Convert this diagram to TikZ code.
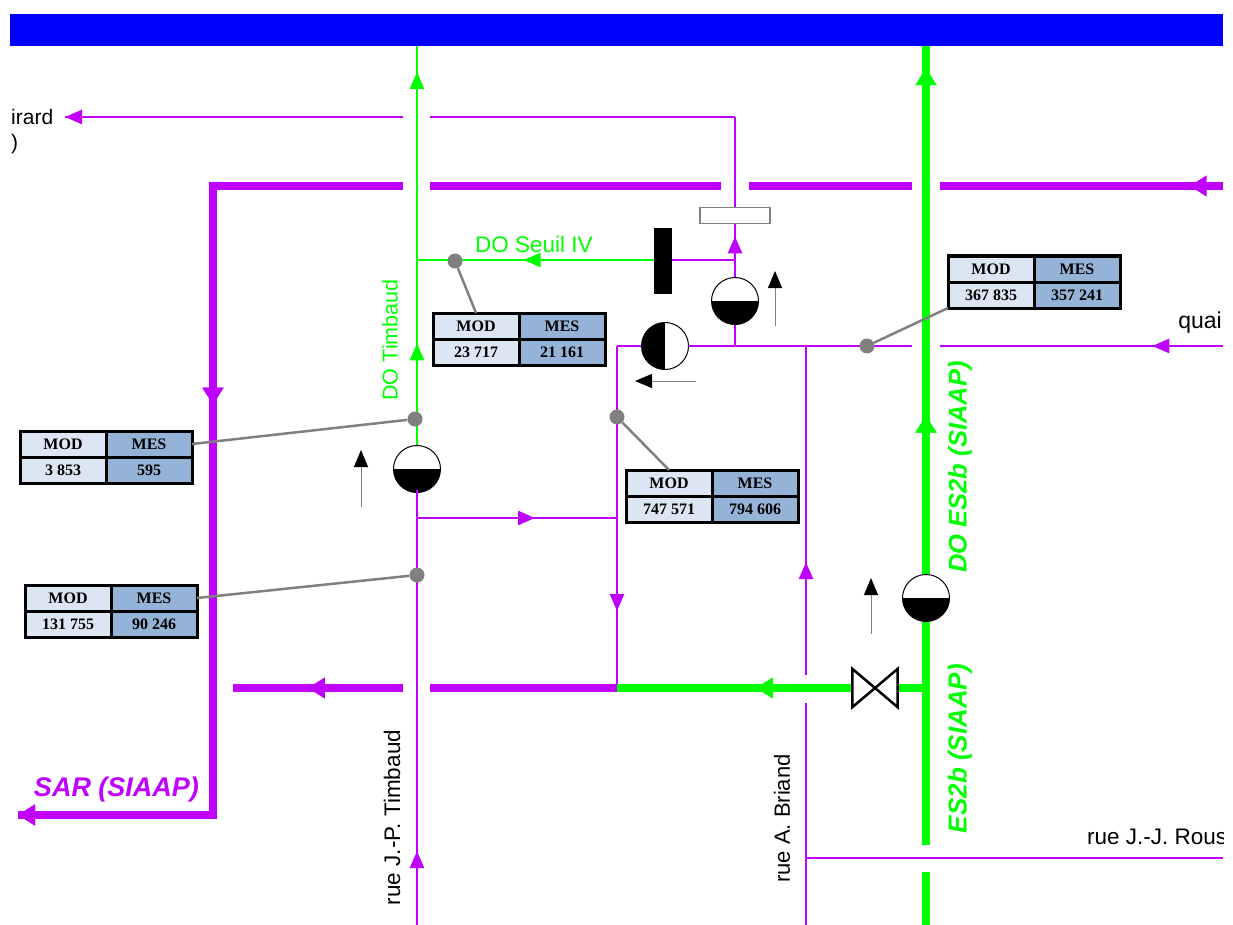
\documentclass[tikz,border=0pt]{standalone}
\usepackage{fontspec}
\setmainfont{Liberation Sans}
\newfontfamily\tabfont{Liberation Serif}
\usetikzlibrary{
  positioning, arrows.meta, calc, decorations.markings
}
\definecolor{eupurple}{HTML}{C000FF}
\definecolor{eugreen}{HTML}{00FF00}
\definecolor{modblue}{HTML}{DCE6F2}
\definecolor{mesblue}{HTML}{95B3D7}

% one MOD / MES table, #2 is its top left corner
\newcommand{\mesure}[4]{
  \node[modcell, anchor=north west] (#1mod) at (#2) {MOD};
  \node[mescell, right=0pt of #1mod] (#1mes) {MES};
  \node[modcell, below=0pt of #1mod] (#1modval) {#3};
  \node[mescell, below=0pt of #1mes] (#1mesval) {#4};
}

\begin{document}
\begin{tikzpicture}[
      x=1pt, y=-1pt,
      every node/.style={font=\fontsize{22.5}{24}\selectfont},
      flow/.style={postaction={decorate}, decoration={markings,
        mark=at position #1 with {\arrow{Triangle[length=17pt,width=14pt]}}}},
      flowthick/.style={postaction={decorate}, decoration={markings,
        mark=at position #1 with {\arrow{Triangle[length=17pt,width=20pt]}}}},
      sewer/.style={draw=eupurple, line width=2.5pt},
      sewerthick/.style={draw=eupurple, line width=7.5pt},
      drain/.style={draw=eugreen, line width=2.5pt},
      drainthick/.style={draw=eugreen, line width=8.5pt},
      sense/.style={draw=gray, line width=1pt, -{Triangle[length=17pt,width=14pt,fill=black,color=black]}},
      lead/.style={draw=gray, line width=2.5pt},
      dot/.style={circle, fill=gray, inner sep=0pt, minimum size=15pt},
      pump/.style={circle, draw=black, line width=1pt, fill=white, inner sep=0pt, minimum size=47pt,
        path picture={\fill[black] (path picture bounding box.west) rectangle (path picture bounding box.south east);}},
      pumpleft/.style={circle, draw=black, line width=1pt, fill=white, inner sep=0pt, minimum size=47pt,
        path picture={\fill[black] (path picture bounding box.north west) rectangle (path picture bounding box.south);}},
      sluice/.style={rectangle, fill=black, inner sep=0pt, minimum width=18pt, minimum height=66pt},
      weir/.style={rectangle, draw=gray, line width=1.5pt, fill=white, inner sep=0pt, minimum width=70pt, minimum height=16pt},
      valve/.style={rectangle, inner sep=0pt, minimum width=45pt, minimum height=38pt},
      modcell/.style={rectangle, draw=black, line width=3pt, fill=modblue, inner sep=0pt, outer sep=0pt,
        minimum width=86pt, minimum height=26pt, font=\tabfont\bfseries\fontsize{16}{18}\selectfont},
      mescell/.style={modcell, fill=mesblue},
      street/.style={text=black, inner sep=0pt},
      doname/.style={text=eugreen, inner sep=0pt},
      siaap/.style={font=\bfseries\itshape\fontsize{26}{28}\selectfont},
    ]
    \useasboundingbox (0,0) rectangle (1233,925);
    \node[rectangle, fill=blue, inner sep=0pt, minimum width=1213pt, minimum height=32pt, anchor=north west] (canal) at (10,14) {};

    % equipment
    \node[pump] (pumpT) at (417,469) {};
    \node[pump] (pumpS) at (735,301) {};
    \node[pumpleft] (pumpQ) at (665,346) {};
    \node[pump] (pumpE) at (926,598) {};
    \node[sluice] (gate) at (663,261) {};
    \node[weir] (sill) at (735,215.5) {};
    \node[valve] (vanne) at (875,688) {};

    % junctions and line ends
    \coordinate (tJ) at (417,46);
    \coordinate (eJ) at (926,46);
    \coordinate (seuil) at (417,260);
    \coordinate (s1) at (417,518);
    \coordinate (s2) at (617,518);
    \coordinate (s3) at (617,688);
    \coordinate (q1) at (617,346);
    \coordinate (q2) at (735,346);
    \coordinate (q3) at (806,346);
    \coordinate (g1) at (735,260);
    \coordinate (g2) at (735,117);
    \coordinate (valveE) at (926,688);

    % thin purple network
    \draw[sewer, flow=0.17] (417,925) -- (417,490);
    \draw[sewer, flow=0.59] (s1) -- (s2);
    \draw[sewer, flow=0.775] (q1) -- (s3);
    \draw[sewer] (q1) -- (pumpQ.west);
    \draw[sewer] (pumpQ.east) -- (912,346);
    \draw[sewer, flow=0.25] (1223,346) -- (940,346);
    \draw[sewer, flow=0.343] (q3 |- 0,675) -- (q3);
    \draw[sewer] (806,925) -- (806,703);
    \draw[sewer] (806,858) -- (1223,858);
    \draw[sewer] (q2) -- (pumpS.south);
    \draw[sewer] (gate.east |- g1) -- (g1);
    \draw[sewer, flow=0.77] (pumpS.north) -- (sill.south);
    \draw[sewer] (sill.north) -- (g2);
    \draw[sewer] (g2) -- (430,117);
    \draw[sewer, flow=1] (403,117) -- (65,117);

    % thick purple collectors
    \draw[sewerthick, flowthick=0.118] (1223,186) -- (940,186);
    \draw[sewerthick] (912,186) -- (749,186);
    \draw[sewerthick] (721,186) -- (430,186);
    \draw[sewerthick, line width=8pt, flowthick=0.403, flowthick=1] (403,186) -- (213,186) -- (213,815) -- (18,815);
    \draw[sewerthick, flowthick=0.56] (403,688) -- (233,688);
    \draw[sewerthick] (s3) -- (430,688);

    % green network
    \draw[drain, flow=0.935] (pumpT.north) -- (tJ);
    \draw[drain, flow=0.55] (pumpT.north) -- (seuil);
    \draw[drain, flow=0.55] (gate.west |- seuil) -- (seuil);
    \draw[drainthick] (926,925) -- (926,872);
    \draw[drainthick] (926,845) -- (pumpE.south);
    \draw[drainthick, flowthick=0.30, flowthick=0.958] (pumpE.north) -- (eJ);
    \draw[drainthick] (valveE) -- (vanne.east);
    \draw[drainthick, flowthick=0.41] (vanne.west) -- (s3);
    \draw[line width=2.5pt, fill=white] (vanne.north west) -- (vanne.south east) -- (vanne.north east) -- (vanne.south west) -- cycle;

    % rotation arrows
    \coordinate (aS) at (775,326);
    \coordinate (aQ) at (696,381);
    \coordinate (aT) at (361,507);
    \coordinate (aE) at (871,634);
    \draw[sense] (aS) -- ++(0,-55);
    \draw[sense] (aQ) -- ++(-61,0);
    \draw[sense] (aT) -- ++(0,-57);
    \draw[sense] (aE) -- ++(0,-56);

    % tables
    \mesure{tabS}{433,313}{23 717}{21 161}
    \mesure{tabQ}{948,256}{367 835}{357 241}
    \mesure{tabD}{626,470}{747 571}{794 606}
    \mesure{tabT}{20,431}{3 853}{595}
    \mesure{tabB}{25,585}{131 755}{90 246}

    \node[dot] (dotS) at (455,261) {};
    \node[dot] (dotQ) at (867,346) {};
    \node[dot] (dotD) at (617,417) {};
    \node[dot] (dotT) at (415,419) {};
    \node[dot] (dotB) at (417,575) {};
    \draw[lead] (dotS) -- (tabSmod.north);
    \draw[lead] (dotQ) -- (tabQmodval.south west);
    \draw[lead] (dotD) -- (tabDmod.north);
    \draw[lead] (dotT) -- (tabTmes.east);
    \draw[lead] (dotB) -- (tabBmes.east);

    % labels
    \node[street, anchor=west, font=\fontsize{21}{23}\selectfont] (lirard) at (11,117) {irard};
    \node[street, anchor=west, font=\fontsize{21}{23}\selectfont] (lparen) at (11,144) {)};
    \node[street, anchor=east, font=\fontsize{23}{25}\selectfont] (lquai) at (1222,323) {quai};
    \begin{scope}
      \clip (0,800) rectangle (1223,870);
      \node[street, anchor=west] (lrous) at (1087,837) {rue J.-J. Rous};
    \end{scope}
    \node[street, rotate=90] (ltimbaud) at (392,817.5) {rue J.-P. Timbaud};
    \node[street, rotate=90, font=\fontsize{22}{24}\selectfont] (lbriand) at (782,818.5) {rue A. Briand};
    \node[doname, rotate=90, font=\fontsize{21.5}{23}\selectfont] (ldot) at (390,340) {DO Timbaud};
    \node[doname] (ldos) at (534,244) {DO Seuil IV};
    \node[doname, siaap, rotate=90, font=\bfseries\itshape\fontsize{25.5}{28}\selectfont] (ldoes) at (960,467) {DO ES2b (SIAAP)};
    \node[doname, siaap, rotate=90] (les) at (960,748.5) {ES2b (SIAAP)};
    \node[siaap, text=eupurple, font=\bfseries\itshape\fontsize{27}{29}\selectfont] (lsar) at (116.5,790) {SAR (SIAAP)};
  \end{tikzpicture}
\end{document}
